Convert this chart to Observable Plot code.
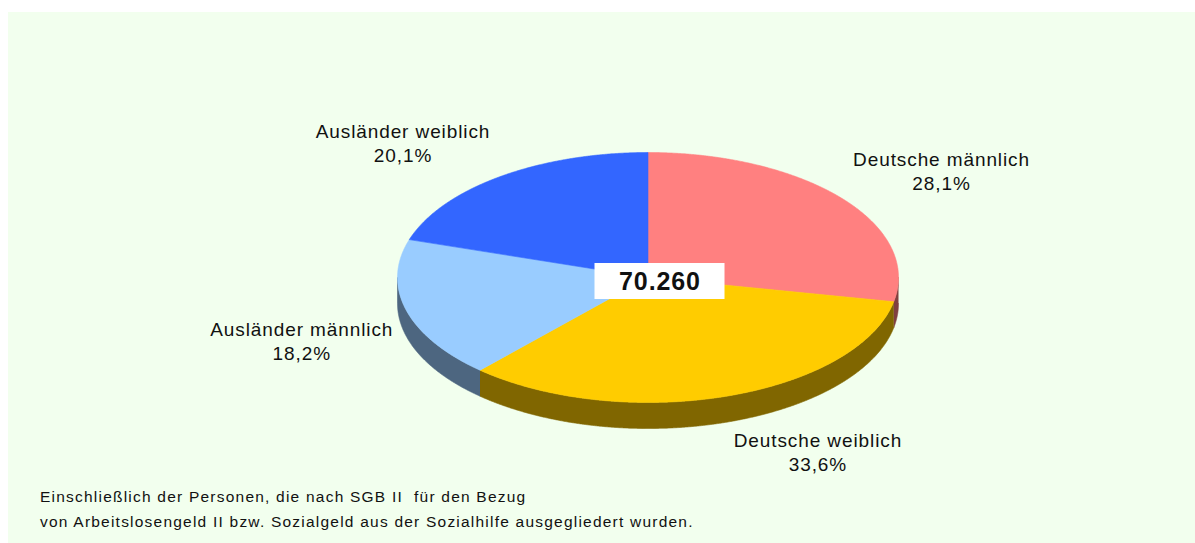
<!DOCTYPE html>
<html>
<head>
<meta charset="utf-8">
<script src="https://cdn.jsdelivr.net/npm/d3@7"></script>
<script src="https://cdn.jsdelivr.net/npm/@observablehq/plot@0.6"></script>
<style>
  html, body { margin: 0; padding: 0; background: #ffffff; width: 1195px; height: 543px; overflow: hidden; }
  #panel { position: absolute; left: 8px; top: 12px; width: 1187px; height: 531px; background: #F2FFEE; }
  #chart { position: absolute; left: 0; top: 0; }
  #note { position: absolute; left: 40px; top: 484px; font-family: "Liberation Sans", Arial, sans-serif;
          font-size: 15.5px; line-height: 25px; color: #111; letter-spacing: 1.22px; white-space: pre; }
</style>
</head>
<body>
<div id="panel"></div>
<div id="chart"></div>
<div id="note"></div>
<script>
// ---- data ----
const categories = ["Deutsche männlich", "Deutsche weiblich", "Ausländer männlich", "Ausländer weiblich"];
const shares = [28.1, 33.6, 18.2, 20.1];
const total = 70260;
const topColors = ["#FF8080", "#FFCC00", "#99CCFF", "#3366FF"];
const sideColors = ["#804040", "#806600", "#4D6680", "#1A3380"];
const noteLines = [
  "Einschließlich der Personen, die nach SGB II  für den Bezug",
  "von Arbeitslosengeld II bzw. Sozialgeld aus der Sozialhilfe ausgegliedert wurden."
];

// ---- layout ----
const W = 1195, H = 543;
const CX = 647.5, CY = 277, RX = 250.5, RY = 125, DEPTH = 26;
const depthU = DEPTH / RY;
const labelFont = 19, labelSpacing = 0.9;
const fontFamily = '"Liberation Sans", Arial, sans-serif';

const sum = d3.sum(shares);
let cum = 0;
const slices = shares.map((v, i) => {
  const a0 = cum / sum * 2 * Math.PI;
  cum += v;
  const a1 = cum / sum * 2 * Math.PI;
  return {i, name: categories[i], value: v, a0, a1};
});

const step = Math.PI / 720;
function arc(a0, a1, dy = 0) {
  const n = Math.max(2, Math.ceil((a1 - a0) / step));
  const pts = [];
  for (let k = 0; k <= n; k++) {
    const a = a0 + (a1 - a0) * k / n;
    pts.push([Math.sin(a), -Math.cos(a) + dy]);
  }
  return pts;
}

const sidePts = [];
const topPts = [];
for (const s of slices) {
  const b0 = Math.max(s.a0, Math.PI / 2), b1 = Math.min(s.a1, 3 * Math.PI / 2);
  if (b1 > b0) {
    const upper = arc(b0, b1);
    const lower = arc(b0, b1, depthU).reverse();
    for (const [x, y] of upper.concat(lower)) sidePts.push({x, y, id: "s" + s.i, color: sideColors[s.i]});
  }
  const ring = [[0, 0], ...arc(s.a0, s.a1), [0, 0]];
  for (const [x, y] of ring) topPts.push({x, y, id: "t" + s.i, color: topColors[s.i]});
}

// label placement
const ctx = document.createElement("canvas").getContext("2d");
ctx.font = `${labelFont}px ${fontFamily}`;
const fmtPct = v => v.toFixed(1).replace(".", ",") + "%";
const labels = slices.map(s => {
  const m = (s.a0 + s.a1) / 2;
  const sn = Math.sin(m), cs = Math.cos(m);
  const w = ctx.measureText(s.name).width + labelSpacing * s.name.length;
  const k = 1.05;
  const ax = k * sn;
  const ay = -k * cs + (cs < 0 ? depthU : 0);
  return {
    x: ax + Math.sign(sn) * (w / 2 + 3 * Math.abs(cs)) / RX,
    y: ay - cs * 30 / RY - 5 / RY,
    text: s.name + "\n" + fmtPct(s.value)
  };
});

const fmtTotal = d3.format(",")(total).replace(/,/g, ".");
const boxX = 12 / RX, boxY = 4 / RY, boxW = 65 / RX, boxH = 18 / RY;

const plot = Plot.plot({
  width: W, height: H,
  margin: 0,
  style: {background: "transparent", fontFamily, overflow: "visible"},
  x: {domain: [-1, 1], range: [CX - RX, CX + RX], axis: null},
  y: {domain: [-1, 1], range: [CY - RY, CY + RY], axis: null},
  color: {type: "identity"},
  marks: [
    Plot.line(sidePts, {x: "x", y: "y", z: "id", fill: "color", stroke: "color", strokeWidth: 0.6, curve: "linear"}),
    Plot.line(topPts, {x: "x", y: "y", z: "id", fill: "color", stroke: "color", strokeWidth: 0.6, curve: "linear"}),
    Plot.rect([total], {x1: () => boxX - boxW, x2: () => boxX + boxW, y1: () => boxY - boxH, y2: () => boxY + boxH, fill: "white"}),
    Plot.text([total], {x: () => boxX, y: () => boxY, text: () => fmtTotal, fontSize: 25, fontWeight: "bold", fill: "#111", letterSpacing: 1}),
    Plot.text(labels, {x: "x", y: "y", text: "text", fontSize: labelFont, lineHeight: 24 / labelFont, fill: "#111", lineAnchor: "middle", textAnchor: "middle"})
  ]
});
plot.querySelectorAll("text").forEach(t => {
  if (!t.getAttribute("font-weight")) t.setAttribute("letter-spacing", labelSpacing);
});
document.getElementById("chart").appendChild(plot);
document.getElementById("note").textContent = noteLines.join("\n");
</script>
</body>
</html>
